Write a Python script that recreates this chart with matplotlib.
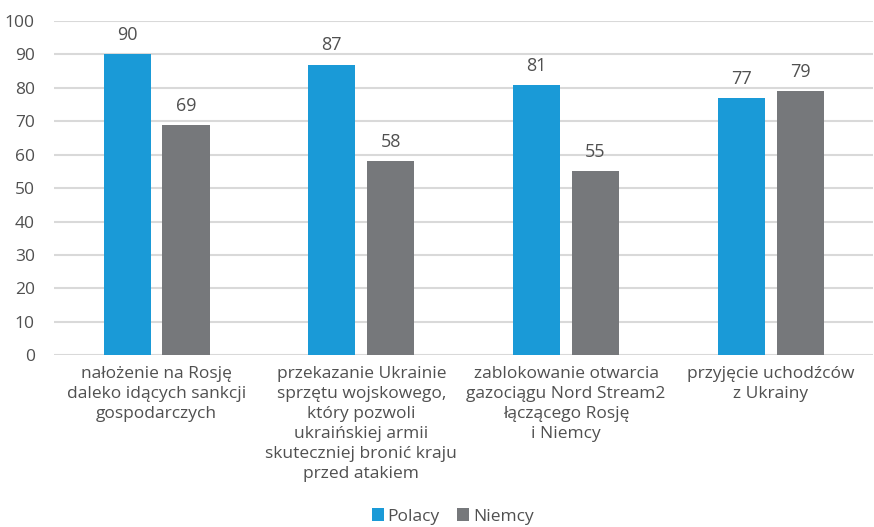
import matplotlib.pyplot as plt
import numpy as np

plt.rcParams['font.family'] = ['Open Sans', 'DejaVu Sans']

categories = [
    "nałożenie na Rosję\ndaleko idących sankcji\ngospodarczych",
    "przekazanie Ukrainie\nsprzętu wojskowego,\nktóry pozwoli\nukraińskiej armii\nskuteczniej bronić kraju\nprzed atakiem",
    "zablokowanie otwarcia\ngazociągu Nord Stream2\nłączącego Rosję\ni Niemcy",
    "przyjęcie uchodźców\nz Ukrainy",
]
polacy = [90, 87, 81, 77]
niemcy = [69, 58, 55, 79]

blue = "#1a9ad7"
grey = "#76787b"
text_color = "#505050"

fig = plt.figure(figsize=(8.74, 5.27), dpi=100)
ax = fig.add_axes([0.062, 0.326, 0.937, 0.634])

x = np.arange(len(categories))
w = 0.23
off = 0.144
b1 = ax.bar(x - off, polacy, w, color=blue, label="Polacy", zorder=3)
b2 = ax.bar(x + off, niemcy, w, color=grey, label="Niemcy", zorder=3)

for bars, vals in ((b1, polacy), (b2, niemcy)):
    for bar, v in zip(bars, vals):
        ax.text(bar.get_x() + bar.get_width() / 2, v + 3, str(v),
                ha='center', va='bottom', fontsize=13, color=text_color)

ax.set_xlim(-0.5, len(categories) - 0.5)
ax.set_ylim(0, 100)
ax.set_yticks(range(0, 101, 10))
ax.yaxis.grid(True, color="#d9d9d9", linewidth=1.5, zorder=0)
ax.set_axisbelow(True)
for s in ax.spines.values():
    s.set_visible(False)
ax.tick_params(axis='both', length=0, colors=text_color, labelsize=12.5)
ax.tick_params(axis='y', pad=14)
ax.set_xticks(x)
ax.set_xticklabels(categories, fontsize=12.5, linespacing=1.33)
ax.tick_params(axis='x', pad=8)

fig.legend(handles=[b1, b2], loc='lower center', bbox_to_anchor=(0.518, -0.025),
           ncol=2, frameon=False, fontsize=12.5, handlelength=0.7, handleheight=0.7,
           handletextpad=0.2, columnspacing=1.0, labelcolor=text_color)

fig.savefig("out.png", dpi=100)
